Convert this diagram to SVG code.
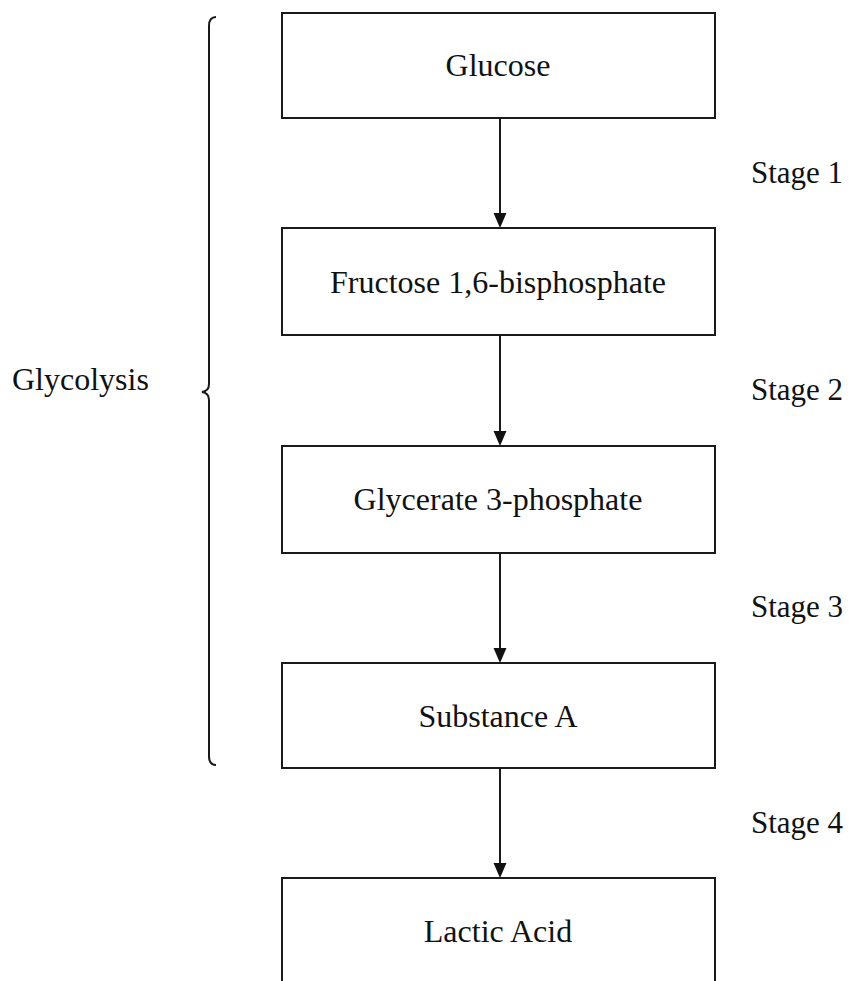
<svg xmlns="http://www.w3.org/2000/svg" width="849" height="981" viewBox="0 0 849 981">
<style>
.box{fill:none;stroke:#1a1a1a;stroke-width:2}
.lbl{font-family:"Liberation Serif","Times New Roman",serif;font-size:32px;fill:#111}
.stg{font-size:31px}
.mid{text-anchor:middle}
.conn{stroke:#1a1a1a;stroke-width:2;fill:none}
.head{fill:#111}
</style>
<rect width="849" height="981" fill="#fff"/>
<g id="connectors">
<line class="conn" x1="500" y1="118" x2="500" y2="216"/>
<path class="head" d="M493.5,213 L506.5,213 L500,228 Z"/>
<line class="conn" x1="500" y1="335" x2="500" y2="433"/>
<path class="head" d="M493.5,431 L506.5,431 L500,446 Z"/>
<line class="conn" x1="500" y1="553" x2="500" y2="650"/>
<path class="head" d="M493.5,648 L506.5,648 L500,663 Z"/>
<line class="conn" x1="500" y1="768" x2="500" y2="865"/>
<path class="head" d="M493.5,863 L506.5,863 L500,878 Z"/>
</g>
<g id="glucose"><rect class="box" x="282" y="13" width="433" height="105"/><text class="lbl mid" x="498" y="76">Glucose</text></g>
<g id="fructose"><rect class="box" x="282" y="228" width="433" height="107"/><text class="lbl mid" x="498" y="293">Fructose 1,6-bisphosphate</text></g>
<g id="glycerate"><rect class="box" x="282" y="446" width="433" height="107"/><text class="lbl mid" x="498" y="510">Glycerate 3-phosphate</text></g>
<g id="substanceA"><rect class="box" x="282" y="663" width="433" height="105"/><text class="lbl mid" x="498" y="727">Substance A</text></g>
<g id="lactic"><path class="box" d="M282,990 L282,878 L715,878 L715,990"/><text class="lbl mid" x="498" y="942">Lactic Acid</text></g>
<g id="stages">
<text class="lbl stg" x="751" y="183">Stage 1</text>
<text class="lbl stg" x="751" y="400">Stage 2</text>
<text class="lbl stg" x="751" y="617">Stage 3</text>
<text class="lbl stg" x="751" y="833">Stage 4</text>
</g>
<g id="glycolysis">
<path class="conn" d="M216,17 Q209,17 209,26 L209,384 Q209,391 202,392 Q209,393 209,400 L209,756 Q209,765 216,765"/>
<text class="lbl" x="12" y="390">Glycolysis</text>
</g>
</svg>
